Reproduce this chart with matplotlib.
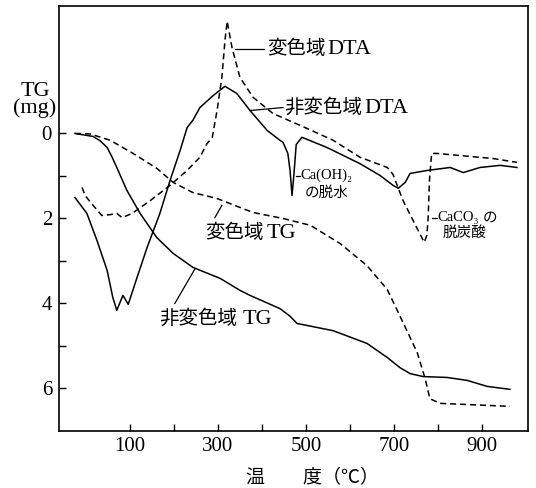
import matplotlib
matplotlib.use("Agg")
import matplotlib.pyplot as plt

plt.rcParams['font.family'] = ['Liberation Serif', 'DejaVu Serif', 'Noto Sans CJK JP']
JP = ['Noto Sans CJK JP']
SERIF = ['Liberation Serif', 'DejaVu Serif']

# 非変色域 TG (solid)
tg_n_t = [-25, 16, 32, 48, 59, 70, 93, 123, 161, 198, 243, 305, 350, 373, 441, 464, 480,
          562, 639, 685, 714, 737, 767, 821, 867, 912, 964]
tg_n_mg = [0, 0.07, 0.17, 0.33, 0.55, 0.80, 1.34, 1.88, 2.45, 2.82, 3.15, 3.41, 3.69, 3.81, 4.12,
           4.30, 4.47, 4.64, 4.94, 5.27, 5.51, 5.65, 5.72, 5.74, 5.81, 5.95, 6.02]

# 変色域 TG (dashed)
tg_h_t = [-25, 9, 55, 107, 161, 198, 243, 298, 350, 380, 448, 510, 578, 639, 685,
          721, 753, 771, 782, 805, 964]
tg_h_mg = [0, 0.01, 0.16, 0.47, 0.82, 1.15, 1.39, 1.53, 1.74, 1.86, 2.0, 2.16, 2.59, 3.11, 3.67,
           4.45, 5.15, 5.76, 6.24, 6.35, 6.42]

# 非変色域 DTA (solid)
dta_n_t = [-25, 2, 25, 48, 61, 70, 84, 96, 116, 139, 168, 191, 214, 230, 243, 259, 289, 316,
           343, 373, 412, 441, 448, 459, 464, 468.5, 473, 478, 491, 548, 623, 669, 698, 710,
           726, 737, 776, 828, 858, 896, 942, 980]
dta_n_mg = [1.51, 1.88, 2.52, 3.22, 3.86, 4.16, 3.81, 4.02, 3.39, 2.68, 1.88, 1.11, 0.40, -0.14,
            -0.31, -0.61, -0.89, -1.11, -0.94, -0.54, -0.07, 0.16, 0.21, 0.47, 0.87, 1.46, 0.94,
            0.26, 0.09, 0.33, 0.71, 0.99, 1.22, 1.29, 1.15, 0.94, 0.87, 0.80, 0.92, 0.80, 0.75, 0.80]

# 変色域 DTA (dashed)
dta_h_t = [-9, -2, 16, 36, 55, 70, 82, 105, 146, 191, 230, 259, 275, 287, 298, 309, 316, 321,
           332, 350, 380, 425, 487, 562, 623, 662, 685, 698, 721, 744, 769, 775, 778, 781, 786,
           798, 851, 926, 980]
dta_h_mg = [1.27, 1.46, 1.69, 1.93, 1.91, 1.88, 1.98, 1.88, 1.58, 1.22, 0.87, 0.56, 0.24, 0.10,
            -0.54, -1.32, -2.19, -2.64, -2.02, -1.32, -0.85, -0.47, -0.19, 0.16, 0.56, 0.71, 0.80,
            0.96, 1.58, 2.05, 2.56, 2.40, 2.0, 1.1, 0.47, 0.47, 0.52, 0.59, 0.68]

x_ticks = [100, 200, 300, 400, 500, 600, 700, 800, 900]
x_labels = ['100', '', '300', '', '500', '', '700', '', '900']
y_ticks = [0, 1, 2, 3, 4, 5, 6]
y_labels = ['0', '', '2', '', '4', '', '6']

fig = plt.figure(figsize=(5.36, 4.88), dpi=100)
ax = fig.add_axes([0.110, 0.1168, 0.875, 0.871])

dash = (4, 2.5)
ax.plot(tg_n_t, tg_n_mg, color='black', lw=1.1)
ax.plot(tg_h_t, tg_h_mg, color='black', lw=1.1, dashes=dash)
ax.plot(dta_n_t, dta_n_mg, color='black', lw=1.1)
ax.plot(dta_h_t, dta_h_mg, color='black', lw=1.1, dashes=dash)

ax.set_xlim(-61.5, 1005)
ax.set_ylim(7, -3)
ax.set_xticks(x_ticks)
ax.set_xticklabels(x_labels)
ax.set_yticks(y_ticks)
ax.set_yticklabels(y_labels)
ax.tick_params(direction='in', length=5, width=1, labelsize=15)
ax.tick_params(axis='x', pad=4)
ax.tick_params(axis='y', pad=5)
for s in ax.spines.values():
    s.set_linewidth(1.2)

# 引き出し線
lk = dict(color='black', lw=0.9)
ax.plot([339, 405], [-1.98, -1.98], **lk)
ax.plot([373, 448], [-0.54, -0.61], **lk)
ax.plot([477, 487], [0.99, 0.99], **lk)
ax.plot([787, 798], [1.98, 1.98], **lk)
ax.plot([293, 309], [1.98, 1.69], **lk)
ax.plot([202, 248], [4.0, 3.18], **lk)

def put(x, y, s, fam, size):
    ax.text(x, y, s, family=fam, fontsize=size, ha='left', va='center')

put(412, -2.0, '変色域', JP, 14)
put(550, -1.97, 'DTA', SERIF, 16)
put(451, -0.61, '非変色域', JP, 14)
put(633, -0.58, 'DTA', SERIF, 16)
put(270, 2.33, '変色域', JP, 14)
put(411, 2.36, 'TG', SERIF, 16)
put(167, 4.35, '非変色域', JP, 14)
put(356, 4.38, 'TG', SERIF, 16)
put(487, 0.99, 'Ca(OH)₂', SERIF, 10.5)
put(497, 1.39, 'の脱水', JP, 10.5)
put(798, 1.98, 'CaCO₃', SERIF, 10.5)
put(902, 1.98, 'の', JP, 10.5)
put(811, 2.33, '脱炭酸', JP, 10.5)

fig.text(35 / 536, 1 - 100 / 488, 'TG\n(mg)', ha='center', va='center', fontsize=16,
         family=SERIF, linespacing=0.8)
fig.text(313 / 536, 1 - 478 / 488, '温\u3000\u3000度（℃）', ha='center', va='center',
         fontsize=13.7, family=JP)

fig.savefig('out.png', dpi=100)
